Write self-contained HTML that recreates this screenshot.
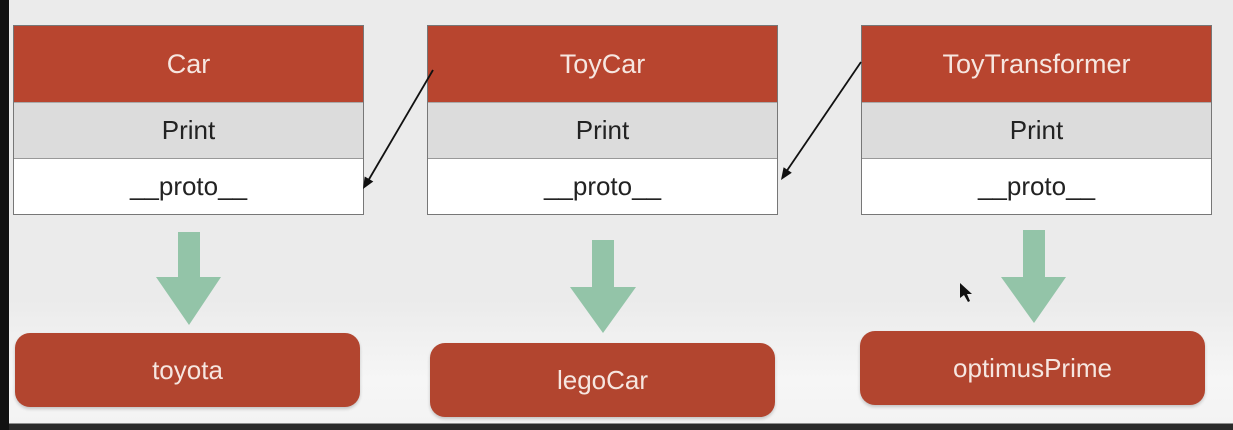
<!DOCTYPE html>
<html><head><style>
body{margin:0;width:1233px;height:430px;overflow:hidden;position:relative;background:linear-gradient(#ebebeb 0,#ebebeb 300px,#f6f6f6 380px,#f3f3f3 423px,#2a2a2a 424px);font-family:"Liberation Sans",sans-serif}
.edge{position:absolute;left:0;top:0;width:9px;height:430px;background:#111}
.box{position:absolute;top:25px;width:349px;height:188px;border:1px solid #777;background:#fff}
.box div{position:absolute;left:0;right:0;text-align:center}
.h{top:0;height:76px;background:#b8452f;color:#f6e6e0;font-size:27px;line-height:76px}
.p{top:76px;height:55px;background:#dcdcdc;border-top:1px solid #aaa;border-bottom:1px solid #999;font-size:26px;line-height:55px;color:#222}
.q{top:132px;height:56px;font-size:26px;line-height:56px;color:#222}
.pill{position:absolute;width:345px;height:74px;border-radius:15px;background:#b2452f;color:#f6e6e0;font-size:26px;line-height:74px;text-align:center;box-shadow:0 2px 3px rgba(0,0,0,.2)}
</style></head><body>
<div class="edge"></div>
<div class="box" style="left:13px"><div class="h">Car</div><div class="p">Print</div><div class="q">__proto__</div></div>
<div class="box" style="left:427px"><div class="h">ToyCar</div><div class="p">Print</div><div class="q">__proto__</div></div>
<div class="box" style="left:861px"><div class="h">ToyTransformer</div><div class="p">Print</div><div class="q">__proto__</div></div>
<svg width="1233" height="430" style="position:absolute;left:0;top:0">
<g fill="#93c4a8">
<polygon points="178,232 200,232 200,277 221,277 189,325 156,277 178,277"/>
<polygon points="592,240 614,240 614,287 636,287 603,333 570,287 592,287"/>
<polygon points="1023,230 1045,230 1045,277 1066,277 1034,323 1001,277 1023,277"/>
</g>
<g stroke="#111" stroke-width="1.8" fill="none">
<line x1="433" y1="70" x2="368" y2="181"/>
<line x1="861" y1="62" x2="786" y2="172"/>
</g>
<polygon points="363,189 373.3,181.5 364.7,176.5" fill="#111"/>
<polygon points="781,180 791.8,172.8 783.6,167.2" fill="#111"/>
<polygon points="960,283 960,298 964,295 968,302 970,301 967,294 972,294" fill="#111"/>
</svg>
<div class="pill" style="left:15px;top:333px">toyota</div>
<div class="pill" style="left:430px;top:343px">legoCar</div>
<div class="pill" style="left:860px;top:331px">optimusPrime</div>
</body></html>
